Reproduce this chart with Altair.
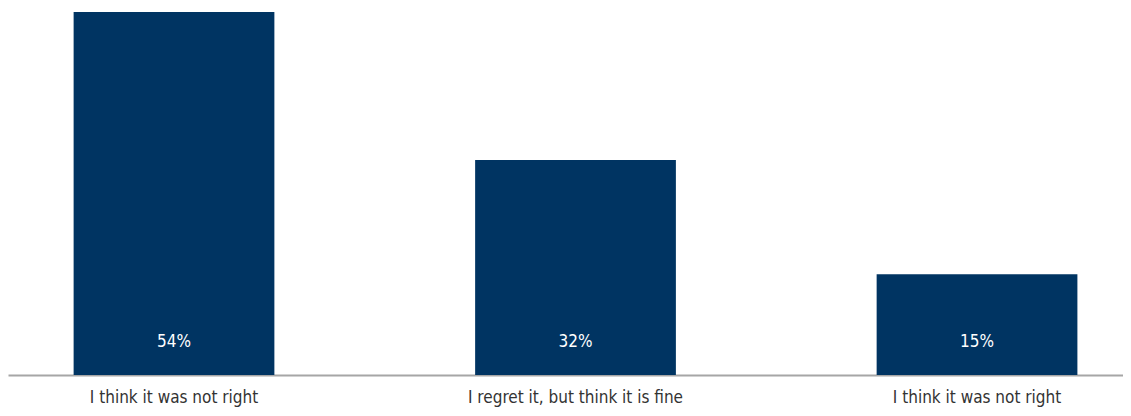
import altair as alt
import pandas as pd

categories = ["I think it was not right", "I regret it, but think it is fine", "I think it was not right "]
values = [54, 32, 15]
labels = ["54%", "32%", "15%"]

df = pd.DataFrame({"cat": categories, "val": values, "lab": labels})

FONT = "DejaVu Sans Condensed, Liberation Sans Narrow, Lato, sans-serif"

x = alt.X("cat:N", sort=categories, title=None,
          scale=alt.Scale(paddingInner=0.5, paddingOuter=0.1385, align=0.59),
          axis=alt.Axis(labelAngle=0, ticks=False, domain=True, domainColor="#a6a6a6",
                        domainWidth=2, labelFont=FONT, labelFontSize=17,
                        labelColor="#333333", labelPadding=14, labelLimit=0,
                        labelExpr="trim(datum.label)"))

bars = alt.Chart(df).mark_bar(color="#003462").encode(
    x=x,
    y=alt.Y("val:Q", scale=alt.Scale(domain=[0, 54], nice=False), axis=None),
)

text = alt.Chart(df).mark_text(color="white", font=FONT, fontSize=17,
                               baseline="middle", dy=-33).encode(
    x=alt.X("cat:N", sort=categories),
    y=alt.datum(0),
    text="lab:N",
)

chart = (bars + text).properties(
    width=1115, height=363,
    padding={"left": 0, "top": 4, "right": 0, "bottom": 7},
).configure_view(stroke=None)

chart.save("out.html", embed_options={"renderer": "svg", "actions": False})
